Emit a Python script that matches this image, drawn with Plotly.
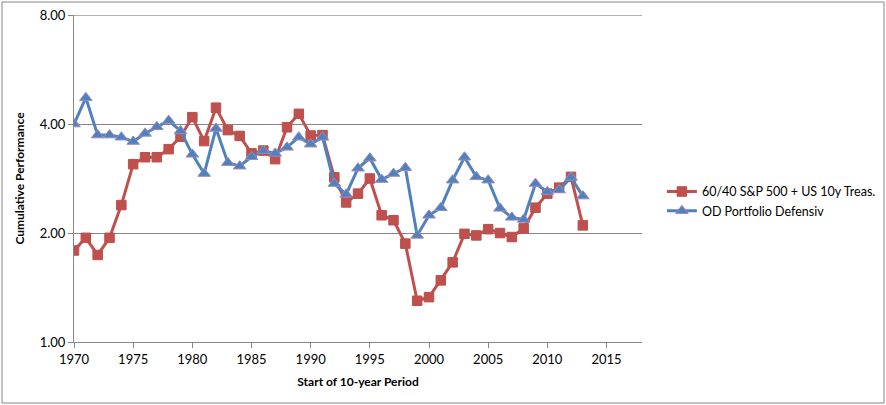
import plotly.graph_objects as go

years = list(range(1970, 2014))
mix_6040 = [1.79, 1.94, 1.74, 1.94, 2.39, 3.10, 3.24, 3.24, 3.41, 3.69,
            4.18, 3.59, 4.44, 3.85, 3.71, 3.32, 3.38, 3.20, 3.92, 4.27,
            3.72, 3.73, 2.85, 2.43, 2.57, 2.83, 2.24, 2.17, 1.87, 1.30,
            1.33, 1.48, 1.66, 1.99, 1.97, 2.05, 2.00, 1.95, 2.06, 2.35,
            2.57, 2.67, 2.86, 2.10]
od_defensiv = [4.00, 4.73, 3.73, 3.73, 3.68, 3.58, 3.77, 3.93, 4.09, 3.83,
               3.30, 2.92, 3.89, 3.13, 3.06, 3.25, 3.38, 3.32, 3.45, 3.68,
               3.52, 3.68, 2.74, 2.56, 3.02, 3.22, 2.81, 2.92, 3.03, 1.97,
               2.24, 2.35, 2.80, 3.24, 2.86, 2.80, 2.34, 2.21, 2.18, 2.74,
               2.60, 2.63, 2.85, 2.53]
name_6040 = "60/40 S&P 500 + US 10y Treas."
name_od = "OD Portfolio Defensiv"
y_ticks = [1, 2, 4, 8]
x_ticks = list(range(1970, 2020, 5))

RED = "#C0504D"
BLUE = "#4F81BD"
GRID = "#868686"
FONT = "Lato"

fig = go.Figure()
fig.add_trace(go.Scatter(
    x=years, y=mix_6040, name=name_6040, mode="lines+markers",
    line=dict(color=RED, width=3),
    marker=dict(symbol="square", size=9.5, color=RED,
                line=dict(color="#B9504C", width=1)),
))
fig.add_trace(go.Scatter(
    x=years, y=od_defensiv, name=name_od, mode="lines+markers",
    line=dict(color=BLUE, width=3),
    marker=dict(symbol="triangle-up", size=11, color=BLUE,
                line=dict(color="#9B8BC0", width=1)),
))

fig.update_layout(
    width=886, height=405,
    margin=dict(l=74, r=244, t=15, b=63, autoexpand=False),
    paper_bgcolor="white", plot_bgcolor="white",
    font=dict(family=FONT, size=13, color="black"),
    showlegend=True,
    legend=dict(x=1.035, y=0.43, xanchor="left", yanchor="middle",
                font=dict(family=FONT, size=12.5, color="black"),
                bgcolor="rgba(0,0,0,0)", tracegroupgap=6),
    xaxis=dict(range=[1970, 2018], tickvals=x_ticks, showgrid=False,
               showline=True, linecolor=GRID, linewidth=1,
               ticks="outside", ticklen=5, tickcolor=GRID,
               zeroline=False, tickfont=dict(size=13), automargin=False,
               title=dict(text="<b>Start of 10-year Period</b>",
                          font=dict(family=FONT, size=12), standoff=12)),
    yaxis=dict(type="log", range=[0, 0.9035], tickvals=y_ticks,
               tickformat=".2f", showgrid=True, gridcolor=GRID, gridwidth=1,
               showline=True, linecolor=GRID, linewidth=1,
               ticks="outside", ticklen=5, tickcolor=GRID,
               zeroline=False, tickfont=dict(size=13), automargin=False,
               title=dict(text="<b>Cumulative Performance</b>",
                          font=dict(family=FONT, size=12), standoff=12)),
)

# top gridline (at the top tick value), drawn explicitly
fig.add_shape(type="line", xref="paper", yref="y",
              x0=0, x1=1, y0=y_ticks[-1], y1=y_ticks[-1],
              line=dict(color=GRID, width=1), layer="above")

# outer chart border
fig.add_shape(type="rect", xref="paper", yref="paper",
              x0=(2 - 74) / 568, x1=(884 - 74) / 568,
              y0=(342 - 403) / 327, y1=(342 - 2) / 327,
              line=dict(color=GRID, width=1), layer="below")

fig.write_html("out.html", config={"displayModeBar": False},
               post_script="document.body.style.margin='0';"
                           "document.body.style.overflow='hidden';")
